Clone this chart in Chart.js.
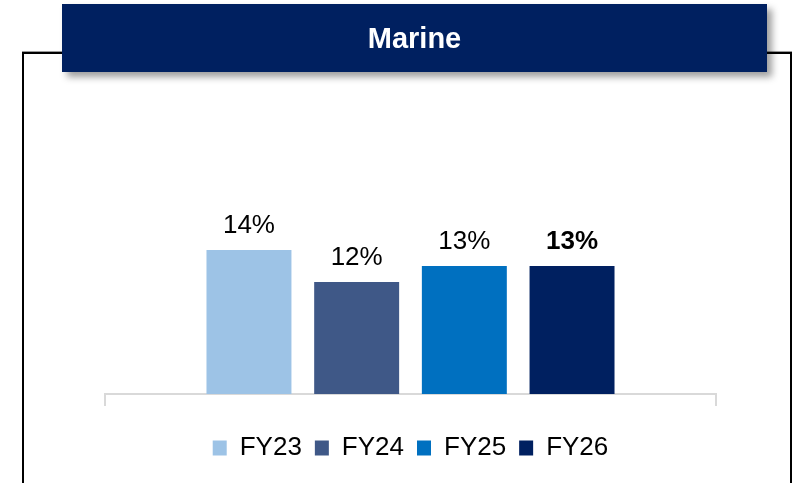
<!DOCTYPE html>
<html>
<head>
<meta charset="utf-8">
<script src="https://cdn.jsdelivr.net/npm/chart.js@4.4.1/dist/chart.umd.min.js"></script>
<style>
  html, body { margin: 0; padding: 0; background: #fff; }
  body { width: 803px; height: 483px; position: relative; overflow: hidden;
         font-family: "Liberation Sans", Arial, sans-serif; }
  .frame { position: absolute; left: 22px; top: 52px; width: 770px; height: 480px;
           box-sizing: border-box; border: 2px solid #000; border-bottom: none;
           box-shadow: 0 -1px 0 #9a9a9a; }
  .banner { position: absolute; left: 62px; top: 4px; width: 705px; height: 68px;
            background: #002060; color: #fff; font-weight: bold; font-size: 29px;
            display: flex; align-items: center; justify-content: center;
            box-shadow: 5px 5px 7px rgba(0,0,0,0.38); z-index: 3; }
  #wrap { position: absolute; left: 0; top: 0; width: 803px; height: 483px; z-index: 2; }
</style>
</head>
<body>
<div class="frame"></div>
<div class="banner">Marine</div>
<div id="wrap"><canvas id="chart" width="803" height="483"></canvas></div>
<script>
// Segment margin by fiscal year (%)
const categories = [''];
const years = ['FY23', 'FY24', 'FY25', 'FY26'];
const margins = [14, 12, 13, 13];
const yearColors = ['#9DC3E6', '#3F5887', '#0070C0', '#002060'];

const FONT = '"Liberation Sans", Arial, sans-serif';

// Value labels above each bar; the latest year is emphasised in bold
const valueLabels = {
  id: 'valueLabels',
  afterDatasetsDraw(chart) {
    const ctx = chart.ctx;
    ctx.save();
    ctx.fillStyle = '#000';
    ctx.textAlign = 'center';
    ctx.textBaseline = 'alphabetic';
    chart.data.datasets.forEach((ds, i) => {
      const meta = chart.getDatasetMeta(i);
      const last = i === chart.data.datasets.length - 1;
      ctx.font = (last ? 'bold ' : '') + '26px ' + FONT;
      meta.data.forEach((bar, j) => {
        ctx.fillText(ds.data[j] + '%', bar.x, bar.y - 17);
      });
    });
    ctx.restore();
  }
};

new Chart(document.getElementById('chart'), {
  type: 'bar',
  data: {
    labels: categories,
    datasets: years.map((y, i) => ({
      label: y,
      data: [margins[i]],
      backgroundColor: yearColors[i],
      borderWidth: 0,
      barPercentage: 0.789,
      categoryPercentage: 0.705
    }))
  },
  options: {
    responsive: false,
    animation: false,
    layout: { padding: { left: 105, right: 87, top: 154, bottom: 12 } },
    scales: {
      x: {
        grid: { display: true, drawOnChartArea: false, drawTicks: true, tickLength: 12,
                color: '#D9D9D9', lineWidth: 2, offset: true },
        border: { display: true, color: '#D9D9D9', width: 2 },
        ticks: { display: true, padding: 2, font: { size: 10 } }
      },
      y: { display: false, min: 5, max: 20 }
    },
    plugins: {
      legend: {
        position: 'bottom',
        labels: { boxWidth: 14, boxHeight: 15, padding: 13, color: '#000',
                  font: { family: FONT, size: 26 } }
      },
      tooltip: { enabled: false }
    }
  },
  plugins: [valueLabels]
});
</script>
</body>
</html>
